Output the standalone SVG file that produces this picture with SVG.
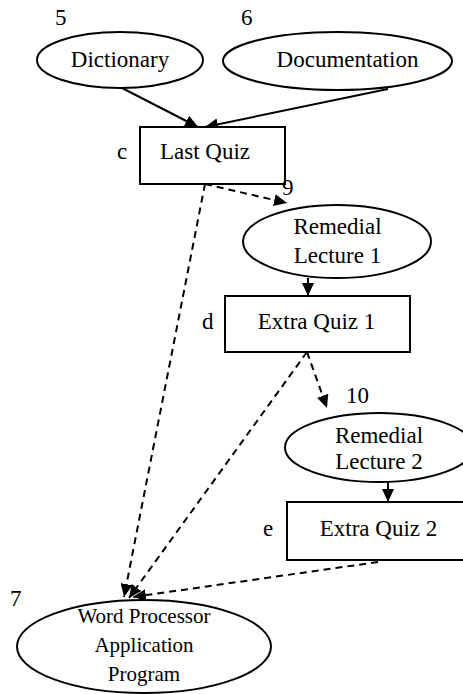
<svg xmlns="http://www.w3.org/2000/svg" width="463" height="694" viewBox="0 0 463 694" font-family="'Liberation Serif', 'Times New Roman', serif">
<style>
  .shape { fill: #fff; stroke: #000; stroke-width: 2; }
  .t { font-family: "Liberation Serif", "Times New Roman", serif; font-size: 23px; fill: #000; }
  .m { text-anchor: middle; }
  .s { font-size: 21px; }
  .solid { stroke: #000; stroke-width: 2; fill: none; marker-end: url(#ah); }
  .dash { stroke: #000; stroke-width: 2; fill: none; stroke-dasharray: 7 5; marker-end: url(#ah); }
</style>
<defs>
  <marker id="ah" markerUnits="userSpaceOnUse" markerWidth="14" markerHeight="12" refX="13" refY="6" orient="auto">
    <path d="M0,0 L13,6 L0,12 z" fill="#000"/>
  </marker>
</defs>
<rect width="463" height="694" fill="#fff"/>
<g id="connectors">
  <line class="solid" x1="122" y1="88" x2="198" y2="127"/>
  <line class="solid" x1="388" y1="89" x2="205" y2="127"/>
  <line class="solid" x1="308" y1="278" x2="308" y2="296"/>
  <line class="solid" x1="388" y1="482" x2="388" y2="502"/>
  <line class="dash" x1="205" y1="184" x2="287" y2="203"/>
  <line class="dash" x1="205" y1="184" x2="124" y2="597"/>
  <line class="dash" x1="307" y1="352" x2="129" y2="598"/>
  <line class="dash" x1="307" y1="352" x2="327" y2="408"/>
  <line class="dash" x1="378" y1="562" x2="133" y2="597"/>
</g>
<g id="n5">
  <text class="t" x="55" y="25">5</text>
  <ellipse class="shape" cx="120" cy="60" rx="83" ry="28"/>
  <text class="t m" x="120" y="67">Dictionary</text>
</g>
<g id="n6">
  <text class="t" x="241" y="25">6</text>
  <ellipse class="shape" cx="337.5" cy="61" rx="114.5" ry="29"/>
  <text class="t m" x="347.5" y="67">Documentation</text>
</g>
<g id="nc">
  <text class="t" x="117" y="159">c</text>
  <rect class="shape" x="140" y="127" width="145" height="57"/>
  <text class="t m" x="205" y="159">Last Quiz</text>
</g>
<g id="n9">
  <text class="t" x="282" y="195">9</text>
  <ellipse class="shape" cx="337" cy="241.5" rx="94" ry="36.5"/>
  <text class="t m" x="337.5" y="234">Remedial</text>
  <text class="t m" x="337.5" y="263">Lecture 1</text>
</g>
<g id="nd">
  <text class="t" x="202" y="329">d</text>
  <rect class="shape" x="225" y="296" width="185" height="56"/>
  <text class="t m" x="316.5" y="329">Extra Quiz 1</text>
</g>
<g id="n10">
  <text class="t" x="346" y="403">10</text>
  <ellipse class="shape" cx="379" cy="447.5" rx="94" ry="34.5"/>
  <text class="t m" x="379" y="443">Remedial</text>
  <text class="t m" x="379" y="469">Lecture 2</text>
</g>
<g id="ne">
  <text class="t" x="263" y="536">e</text>
  <rect class="shape" x="287" y="502" width="185" height="58"/>
  <text class="t m" x="378.5" y="536">Extra Quiz 2</text>
</g>
<g id="n7">
  <text class="t" x="10" y="606">7</text>
  <ellipse class="shape" cx="144" cy="646.5" rx="127" ry="46.5"/>
  <text class="t s m" x="144" y="623">Word Processor</text>
  <text class="t s m" x="144" y="652">Application</text>
  <text class="t s m" x="144" y="681">Program</text>
</g>
</svg>
